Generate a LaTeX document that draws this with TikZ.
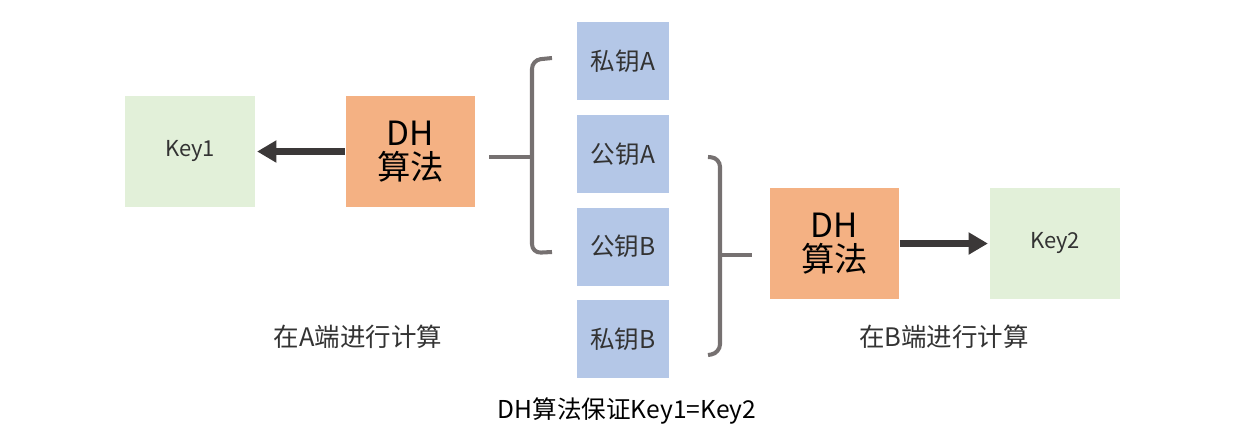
\documentclass[tikz,border=0pt]{standalone}
\usepackage{fontspec}
\setmainfont{Noto Sans CJK SC}
\usetikzlibrary{arrows.meta}
\definecolor{keygreen}{HTML}{E2F0D9}
\definecolor{dhorange}{HTML}{F4B183}
\definecolor{partblue}{HTML}{B4C7E7}
\definecolor{bracegray}{HTML}{767171}
\definecolor{arrowgray}{HTML}{3B3838}
\definecolor{textgray}{HTML}{333333}
\begin{document}
\begin{tikzpicture}[x=0.02cm, y=-0.02cm,
  keybox/.style={fill=keygreen, minimum width=2.6cm, minimum height=2.22cm, inner sep=0pt, text=textgray, font=\fontsize{12.5}{15}\selectfont},
  dhbox/.style={fill=dhorange, minimum width=2.6cm, minimum height=2.22cm, inner sep=0pt, align=center, font=\fontsize{19}{21}\selectfont},
  partbox/.style={fill=partblue, minimum width=1.84cm, minimum height=1.56cm, inner sep=0pt, text=textgray, font=\fontsize{14}{16}\selectfont},
  note/.style={text=textgray, font=\fontsize{14.5}{17}\selectfont},
  arr/.style={draw=arrowgray, line width=4pt, -{Triangle[length=11pt, width=12pt]}, shorten >=1pt},
  brace/.style={draw=bracegray, line width=2.3pt, rounded corners=5pt}]
 \useasboundingbox (0,0) rectangle (1254,437);

 % side A
 \node[keybox] (key1) at (190,151.5) {Key1};
 \node[dhbox] (dhA) at (410.5,151.5) {DH\\[-2pt]算法};
 \draw[arr] (dhA) -- (key1);

 % the four key parts
 \node[partbox] (privA) at (623,61) {私钥A};
 \node[partbox] (pubA) at (623,154) {公钥A};
 \node[partbox] (pubB) at (623,246.5) {公钥B};
 \node[partbox] (privB) at (623,339) {私钥B};

 % side B
 \node[dhbox] (dhB) at (834.5,243.5) {DH\\[-2pt]算法};
 \node[keybox] (key2) at (1055,243.5) {Key2};
 \draw[arr] (dhB) -- (key2);

 % braces
 \draw[brace] (552,58) -- (532,60) -- (532,253) -- (552,252);
 \draw[brace] (489,157) -- (532,157);
 \draw[brace] (708,157) -- (720,158) -- (720,353) -- (708,355);
 \draw[brace] (720,255) -- (752,255);

 \node[note] (noteA) at (358,337) {在A端进行计算};
 \node[note] (noteB) at (944,337) {在B端进行计算};
 \node[note, text=black, font=\fontsize{14}{16}\selectfont] (result) at (627,411) {DH算法保证Key1=Key2};
\end{tikzpicture}
\end{document}
